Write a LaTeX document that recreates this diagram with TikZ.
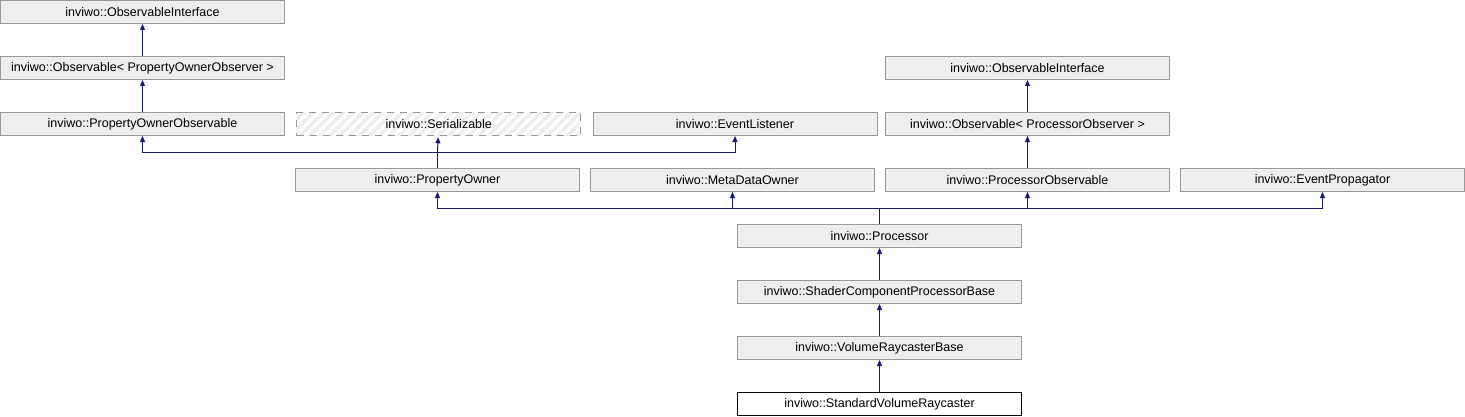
\documentclass[tikz,border=0pt]{standalone}
\usepackage{fontspec}
\setmainfont{Liberation Sans}
\usepackage{tikz}
\usetikzlibrary{positioning}
\usetikzlibrary{arrows.meta,patterns.meta}
\definecolor{kastengrau}{HTML}{EEEEEE}
\definecolor{randgrau}{HTML}{999999}
\definecolor{pfeilblau}{HTML}{191970}

\begin{document}
\begin{tikzpicture}[x=1pt,y=1pt,
	>={Triangle[length=6pt,width=5pt]},   %Voreinstellung fuer Pfeilspitzen
	node distance=32pt,
	klasse/.style={draw=randgrau,fill=kastengrau,line width=1pt,minimum width=284pt,minimum height=23pt,inner sep=0pt,font=\fontsize{12.5}{14}\selectfont},
	abstrakt/.style={klasse,dash pattern=on 7pt off 6pt,preaction={fill=white},pattern={Lines[angle=45,distance=7pt,line width=3.5pt]},pattern color=kastengrau},
	aktuell/.style={klasse,draw=black,fill=white},
	pfeil/.style={->,draw=pfeilblau,line width=1pt}]
	
	\useasboundingbox (0,0) rectangle (1465,416);
	
	% linke Spalte
	\node[klasse] (obsint) at (142.5,404) {inviwo::ObservableInterface};
	\node[klasse,below=of obsint] (obspo) {inviwo::Observable< PropertyOwnerObserver >};
	\node[klasse,below=of obspo] (poobs) {inviwo::PropertyOwnerObservable};
	\node[abstrakt,right=10pt of poobs] (ser) {inviwo::Serializable};
	\node[klasse,right=10pt of ser] (evlist) {inviwo::EventListener};
	
	% rechte Spalte
	\node[klasse] (obsint2) at (1027.5,348) {inviwo::ObservableInterface};
	\node[klasse,below=of obsint2] (obsproc) {inviwo::Observable< ProcessorObserver >};
	
	% zweite Reihe
	\node[klasse] (propowner) at (437.5,236) {inviwo::PropertyOwner};
	\node[klasse,right=10pt of propowner] (mdowner) {inviwo::MetaDataOwner};
	\node[klasse,right=10pt of mdowner] (procobs) {inviwo::ProcessorObservable};
	\node[klasse,right=10pt of procobs] (evprop) {inviwo::EventPropagator};
	
	% Kette nach unten
	\node[klasse] (proc) at (879.5,180) {inviwo::Processor};
	\node[klasse,below=of proc] (shader) {inviwo::ShaderComponentProcessorBase};
	\node[klasse,below=of shader] (vrbase) {inviwo::VolumeRaycasterBase};
	\node[aktuell,below=of vrbase] (stdvr) {inviwo::StandardVolumeRaycaster};
	
	% Sammelschienen
	\coordinate (bus1) at (437.5,264);
	\coordinate (bus2) at (879.5,208);
	
	\draw[pfeil] (obspo) -- (obsint);
	\draw[pfeil] (poobs) -- (obspo);
	\draw[pfeil] (obsproc) -- (obsint2);
	\draw[pfeil] (procobs) -- (obsproc);
	
	\draw[pfeilblau,line width=1pt] (propowner) -- (bus1);
	\draw[pfeil] (bus1) -- (ser);
	\foreach \ziel in {poobs,evlist}
		\draw[pfeil] (bus1) -| (\ziel);
	
	\draw[pfeilblau,line width=1pt] (proc) -- (bus2);
	\foreach \ziel in {propowner,mdowner,procobs,evprop}
		\draw[pfeil] (bus2) -| (\ziel);
	
	\draw[pfeil] (shader) -- (proc);
	\draw[pfeil] (vrbase) -- (shader);
	\draw[pfeil] (stdvr) -- (vrbase);
\end{tikzpicture}
\end{document}
